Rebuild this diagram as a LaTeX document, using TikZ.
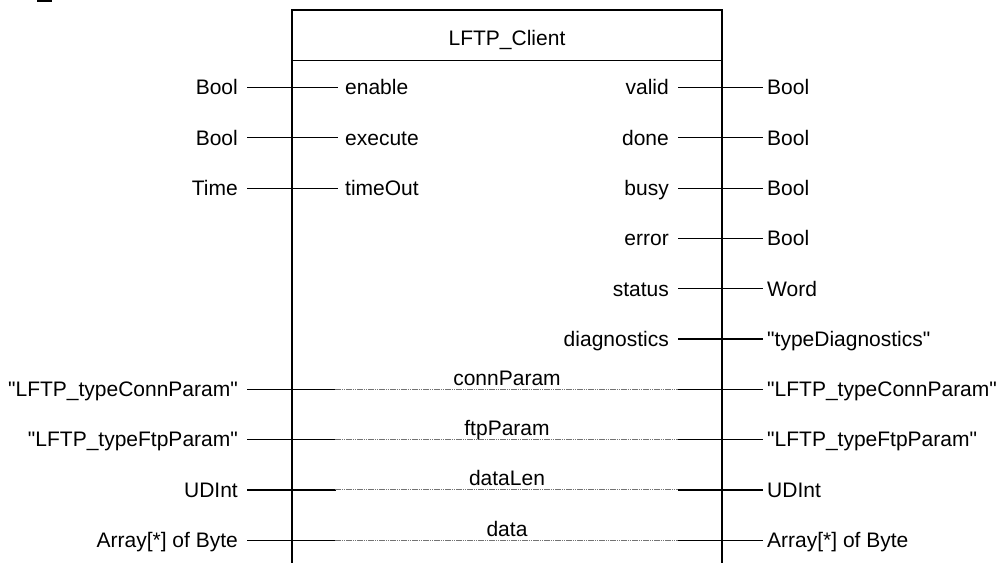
\documentclass[tikz,border=0pt]{standalone}
\usepackage{fontspec}
\setmainfont{Liberation Sans}[Ligatures=TeXOff]
\tikzset{
  lbl/.style={inner sep=0pt, font=\fontsize{21}{25}\selectfont},
  wire/.style={line width=1.2pt, line cap=rect},
  passwire/.style={black!55, line width=1.1pt, dash pattern=on 1.5pt off 0.7pt},
}
\begin{document}
\begin{tikzpicture}[x=1pt,y=-1pt]
\useasboundingbox (0,0) rectangle (1008,562);

% leftover mark at the upper edge
\fill (37,0) rectangle (52,1.6);

% block frame (open at the bottom) and header
\coordinate (bl) at (292,562);
\coordinate (tl) at (292,10);
\coordinate (tr) at (722,10);
\coordinate (br) at (722,562);
\coordinate (hl) at (292,60.7);
\coordinate (hr) at (722,60.7);
\draw[wire] (bl) -- (tl) -- (tr) -- (br);
\draw[wire] (hl) -- (hr);
\node[lbl, anchor=base] (title) at (507,45) {LFTP\_Client};

% inputs
\foreach \i/\nm/\ty in {0/enable/Bool, 1/execute/Bool, 2/timeOut/Time} {
  \pgfmathsetmacro\yy{87.5+50.3*\i}
  \coordinate (inS\i) at (248,\yy);
  \coordinate (inE\i) at (337,\yy);
  \draw[wire] (inS\i) -- (inE\i);
  \node[lbl, anchor=base east] (inT\i) at (238,\yy+7.3) {\ty};
  \node[lbl, anchor=base west] (inN\i) at (345,\yy+7.3) {\nm};
}

% outputs
\foreach \i/\nm/\ty in {0/valid/Bool, 1/done/Bool, 2/busy/Bool, 3/error/Bool,
                        4/status/Word, 5/diagnostics/"typeDiagnostics"} {
  \pgfmathsetmacro\yy{87.5+50.3*\i}
  \coordinate (outS\i) at (679,\yy);
  \coordinate (outE\i) at (762,\yy);
  \draw[wire] (outS\i) -- (outE\i);
  \node[lbl, anchor=base east] (outN\i) at (669,\yy+7.3) {\nm};
  \node[lbl, anchor=base west] (outT\i) at (767,\yy+7.3) {\ty};
}

% in/out parameters
\foreach \i/\nm/\ty in {6/connParam/"LFTP\_typeConnParam", 7/ftpParam/"LFTP\_typeFtpParam",
                        8/dataLen/UDInt, 9/data/Array[*] of Byte} {
  \pgfmathsetmacro\yy{87.5+50.3*\i}
  \coordinate (ioA\i) at (248,\yy);
  \coordinate (ioB\i) at (335,\yy);
  \coordinate (ioC\i) at (679,\yy);
  \coordinate (ioD\i) at (762,\yy);
  \draw[wire] (ioA\i) -- (ioB\i);
  \draw[passwire] (ioB\i) -- (ioC\i);
  \draw[wire] (ioC\i) -- (ioD\i);
  \node[lbl, anchor=base east] (ioL\i) at (238,\yy+7.3) {\ty};
  \node[lbl, anchor=base west] (ioR\i) at (767,\yy+7.3) {\ty};
  \node[lbl, anchor=base] (ioN\i) at (507,\yy-4) {\nm};
}
\end{tikzpicture}
\end{document}
